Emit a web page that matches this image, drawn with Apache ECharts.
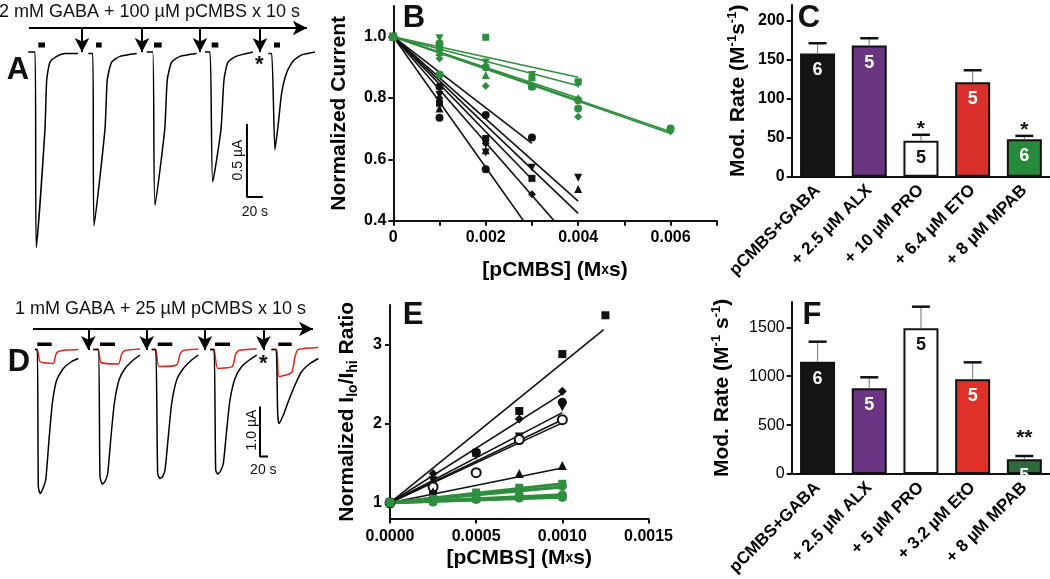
<!DOCTYPE html>
<html>
<head>
<meta charset="utf-8">
<title>pCMBS modification rates</title>
<script src="https://cdn.jsdelivr.net/npm/echarts@6.0.0/dist/echarts.min.js"></script>
<style>
  html, body { margin: 0; padding: 0; background: #fff; }
  #chart { width: 1050px; height: 579px; }
</style>
</head>
<body>
<div id="chart"></div>
<script>
// A: 2 mM GABA + 100 uM pCMBS, currents (time s, current uA)
var aTraceTime = [
    [-6.3, 2.1, 3.8, 14.6, 16.8, 20.9, 29.3, 39.8, 55.9],
    [68.8, 74.3, 75.9, 89.6, 92.5, 98, 108.4, 129.3],
    [141.8, 149.3, 152.1, 164.3, 167.5, 173, 183.4, 204.3],
    [214.6, 220.9, 224.3, 234.6, 238.4, 243.4, 253.4, 274.6],
    [293.8, 298, 302.1, 306.3, 310.5, 316.8, 325, 335.5, 352.1]
];
var aTraceCurrent = [
    [0, 0, -1.34, -0.53, -0.19, -0.07, -0.03, -0.01, -0.01],
    [-0.01, -0.01, -1.19, -0.53, -0.19, -0.07, -0.03, -0.01],
    [0, 0, -1.05, -0.53, -0.19, -0.07, -0.03, -0.01],
    [0, 0, -0.89, -0.53, -0.19, -0.07, -0.03, 0],
    [-0.01, -0.01, -0.67, -0.49, -0.28, -0.14, -0.06, -0.02, 0]
];
var aArrowTime = [60.9, 135.9, 208.4, 283.4];
var aGabaBars = [[6.3, 14.6], [78.4, 85.5], [150.9, 160.5], [223, 231.3], [300.9, 308.4]];

// D: 1 mM GABA + 25 uM pCMBS, black = high GABA, red = low GABA
var dTraceTime = [
    [0, 5.8, 8.3, 12.5, 18.3, 26.7, 35, 43.3, 54.2, 70.8, 91.7, 108.3],
    [145.8, 158.3, 162.5, 168.3, 175, 181.7, 190, 198.3, 210, 225, 245.8, 262.5],
    [291.7, 301.7, 306.7, 312.5, 319.2, 325, 333.3, 341.7, 354.2, 370.8, 391.7, 408.3],
    [437.5, 447.5, 451.7, 456.7, 463.3, 470.8, 479.2, 487.5, 500, 516.7, 537.5, 554.2],
    [591.7, 602.5, 606.7, 610, 620.8, 633.3, 650, 666.7, 687.5, 708.3]
];
var dTraceCurrent = [
    [-0.01, -0.01, -2.75, -2.89, -2.82, -2.62, -1.82, -1.09, -0.62, -0.39, -0.25, -0.19],
    [-0.01, -0.01, -2.55, -2.70, -2.65, -2.49, -1.75, -1.09, -0.62, -0.39, -0.22, -0.12],
    [-0.01, -0.01, -2.49, -2.59, -2.55, -2.42, -1.75, -1.09, -0.62, -0.39, -0.22, -0.12],
    [-0.01, -0.01, -2.42, -2.50, -2.45, -2.29, -1.62, -1.02, -0.59, -0.35, -0.21, -0.12],
    [-0.01, -0.01, -1.29, -1.49, -1.32, -1.05, -0.72, -0.45, -0.29, -0.19]
];
var dLowTime = [
    [0, 5.8, 12.5, 45.8, 51.7, 58.3, 79.2, 108.3],
    [145.8, 158.3, 165, 208.3, 216.7, 225, 262.5],
    [291.7, 301.7, 310, 354.2, 362.5, 370.8, 408.3],
    [437.5, 447.5, 456.7, 493.3, 501.7, 510, 554.2],
    [590, 604.2, 610, 641.7, 650, 658.3, 708.3]
];
var dLowCurrent = [
    [-0.01, -0.01, -0.25, -0.29, -0.12, -0.05, -0.02, -0.01],
    [-0.01, -0.01, -0.27, -0.30, -0.10, -0.03, 0],
    [-0.01, -0.01, -0.35, -0.32, -0.10, -0.03, 0],
    [-0.01, -0.01, -0.39, -0.35, -0.10, -0.03, 0],
    [-0.01, -0.01, -0.55, -0.47, -0.15, -0.01, 0.03]
];
var dArrowTime = [133.3, 279.2, 425, 570.8];
var dGabaBars = [[5.8, 41.7], [162.5, 200], [306.7, 343.3], [450, 487.5], [608.3, 641.7]];

// B: normalized current vs [pCMBS] (M x s)
var bBlackX = [
    [0, 0.001, 0.002, 0.003],
    [0, 0.001, 0.002, 0.003, 0.004],
    [0, 0.001, 0.002, 0.004],
    [0, 0.001, 0.002, 0.003],
    [0, 0.001, 0.002, 0.003],
    [0, 0.001, 0.002]
];
var bBlackY = [
    [1, 0.837, 0.745, 0.671],
    [1, 0.81, 0.622, 0.573, 0.54],
    [1, 0.766, 0.63, 0.503],
    [1, 0.80, 0.652, 0.486],
    [1, 0.783, 0.668, 0.538],
    [1, 0.736, 0.568]
];
var bBlackSymbol = ['circle', 'triangleDown', 'triangle', 'diamond', 'rect', 'circle'];
var bBlackFitEnd = [[0.003, 0.652], [0.004, 0.464], [0.004, 0.424], [0.004, 0.31], [0.003, 0.535], [0.004, 0.148]];
var bGreenX = [
    [0, 0.001, 0.002, 0.003, 0.004],
    [0, 0.001, 0.002, 0.003, 0.004],
    [0, 0.001, 0.002, 0.003, 0.004],
    [0, 0.001, 0.002, 0.003, 0.004],
    [0, 0.001, 0.004, 0.006],
    [0, 0.001, 0.002, 0.004, 0.006]
];
var bGreenY = [
    [1, 0.962, 0.998, 0.866, 0.853],
    [1, 0.995, 0.916, 0.875, 0.845],
    [1, 0.95, 0.875, 0.84, 0.80],
    [1, 0.978, 0.90, 0.837, 0.793],
    [1, 0.877, 0.766, 0.701],
    [1, 0.929, 0.839, 0.739, 0.692]
];
var bGreenSymbol = ['rect', 'triangleDown', 'triangle', 'circle', 'circle', 'diamond'];
var bGreenFitEnd = [[0.004, 0.868], [0.004, 0.84], [0.004, 0.80], [0.004, 0.79], [0.006, 0.69], [0.006, 0.684]];
var bXLabels = [0, 0.002, 0.004, 0.006];
var bYLabels = [0.4, 0.6, 0.8, 1.0];

// E: normalized Ilo/Ihi ratio vs [pCMBS] (M x s)
var eBlackX = [
    [0, 0.00025, 0.0005, 0.00075, 0.001, 0.00125],
    [0, 0.00025, 0.0005, 0.00075, 0.001],
    [0, 0.00025, 0.0005, 0.00075, 0.001],
    [0, 0.00025, 0.0005, 0.00075, 0.001],
    [0, 0.00025, 0.0005, 0.00075, 0.001],
    [0, 0.00025, 0.00075, 0.001]
];
var eBlackY = [
    [1, 1.16, 1.63, 2.16, 2.88, 3.37],
    [1, 1.37, 1.62, 2.06, 2.41],
    [1, 1.28, 1.60, 1.83, 2.21],
    [1, 1.22, 1.64, 1.79, 2.27],
    [1, 1.20, 1.38, 1.80, 2.05],
    [1, 1.14, 1.37, 1.47]
];
var eBlackSymbol = ['rect', 'diamond', 'triangleDown', 'circle', 'emptyCircle', 'triangle'];
var eBlackFitEnd = [[0.00124, 3.19], [0.001, 2.38], [0.001, 2.14], [0.001, 2.05], [0.001, 2.01], [0.001, 1.44]];
var eGreenX = [
    [0, 0.00025, 0.0005, 0.00075, 0.001],
    [0, 0.00025, 0.0005, 0.00075, 0.001],
    [0, 0.00025, 0.0005, 0.00075, 0.001],
    [0, 0.00025, 0.0005, 0.00075, 0.001],
    [0, 0.00025, 0.0005, 0.00075, 0.001]
];
var eGreenY = [
    [1, 1.05, 1.13, 1.19, 1.24],
    [1, 1.04, 1.10, 1.16, 1.21],
    [1, 1.03, 1.06, 1.09, 1.10],
    [1, 1.02, 1.05, 1.07, 1.08],
    [1, 1.01, 1.04, 1.06, 1.07]
];
var eGreenSymbol = ['rect', 'circle', 'circle', 'rect', 'circle'];
var eGreenFitEnd = [[0.001, 1.24], [0.001, 1.20], [0.001, 1.10], [0.001, 1.08], [0.001, 1.07]];
var eXLabels = [0, 0.0005, 0.001, 0.0015];
var eYLabels = [1, 2, 3];

// C / F: modification rates (M-1 s-1), mean + SEM, n
var cCategories = ['pCMBS+GABA', '+ 2.5 \u00b5M ALX', '+ 10 \u00b5M PRO', '+ 6.4 \u00b5M ETO', '+ 8 \u00b5M MPAB'];
var cRate = [158, 168, 46, 121, 48];
var cSem = [13, 9.4, 7.7, 15.4, 4.3];
var cN = [6, 5, 5, 5, 6];
var cSig = ['', '', '*', '', '*'];
var cYLabels = [0, 50, 100, 150, 200];

var fCategories = ['pCMBS+GABA', '+ 2.5 \u00b5M ALX', '+ 5 \u00b5M PRO', '+ 3.2 \u00b5M EtO', '+ 8 \u00b5M MPAB'];
var fRate = [1148, 876, 1490, 968, 150];
var fSem = [205, 113, 221, 174, 34];
var fN = [6, 5, 5, 5, 5];
var fSig = ['', '', '', '', '**'];
var fYLabels = [0, 500, 1000, 1500];

var FONT = 'Liberation Sans, Arial, sans-serif';
var GREEN = '#2f8e3e';

const figure = {
    init: function () {
        this.chart = echarts.init(document.getElementById('chart'));
        this.render();
    },
    traceSeries: function (times, currents, color, axis) {
        return times.map(function (t, i) {
            return {
                type: 'line', xAxisIndex: axis, yAxisIndex: axis,
                symbol: 'none', smooth: 0.2, silent: true,
                lineStyle: { color: color, width: 1.5 },
                data: t.map(function (v, j) { return [v, currents[i][j]]; })
            };
        });
    },
    // arrows, application bars, asterisk and scale bar of a trace panel
    traceMarks: function (m, axis) {
        var arrows = [[{ coord: [m.lineFrom, m.lineY] }, { coord: [m.lineTo, m.lineY] }]];
        m.arrowTime.forEach(function (t) {
            arrows.push([{ coord: [t, m.lineY] }, { coord: [t, m.tipY] }]);
        });
        var out = [{
            type: 'line', xAxisIndex: axis, yAxisIndex: axis, symbol: 'none', silent: true,
            lineStyle: { color: '#000', width: 2 },
            data: [[m.scaleT, m.scaleTop], [m.scaleT, m.scaleBottom], [m.scaleT + 20, m.scaleBottom]],
            markLine: {
                silent: true, symbol: ['none', 'arrow'], symbolSize: [11, 14],
                label: { show: false },
                lineStyle: { color: '#000', width: 2, type: 'solid' },
                data: arrows
            }
        }];
        m.bars.forEach(function (b) {
            out.push({
                type: 'line', xAxisIndex: axis, yAxisIndex: axis, symbol: 'none', silent: true,
                lineStyle: { color: '#000', width: m.barWidth, cap: 'butt' },
                data: [[b[0], m.barY], [b[1], m.barY]]
            });
        });
        // texts of the panel: asterisk and scale bar units
        var texts = [
            [m.star[0], m.star[1], '*', 'bold 22px ', 0],
            [m.ampText[0], m.ampText[1], m.ampLabel, '14px ', Math.PI / 2],
            [m.timeText[0], m.timeText[1], '20 s', '14px ', 0]
        ];
        out.push({
            type: 'custom', xAxisIndex: axis, yAxisIndex: axis, silent: true,
            data: texts.map(function (t) { return [t[0], t[1]]; }),
            renderItem: function (params, api) {
                var p = api.coord([api.value(0), api.value(1)]);
                var t = texts[params.dataIndex];
                return {
                    type: 'text', x: p[0], y: p[1], rotation: t[4],
                    style: { text: t[2], font: t[3] + FONT, fill: '#111', align: 'center', verticalAlign: 'middle' }
                };
            }
        });
        return out;
    },
    scatterSeries: function (xs, ys, symbols, fits, color, axis, size, fitWidth) {
        var out = [];
        xs.forEach(function (x, i) {
            var sym = symbols[i];
            var hollow = sym === 'emptyCircle';
            out.push({
                type: 'line', xAxisIndex: axis, yAxisIndex: axis, symbol: 'none', silent: true,
                lineStyle: { color: color, width: fitWidth },
                data: [[0, 1], fits[i]]
            });
            out.push({
                type: 'scatter', xAxisIndex: axis, yAxisIndex: axis, silent: true,
                symbol: sym === 'triangleDown' ? 'triangle' : (hollow ? 'circle' : sym),
                symbolRotate: sym === 'triangleDown' ? 180 : 0,
                symbolSize: sym === 'rect' ? size - 1 : size,
                itemStyle: {
                    opacity: 1,
                    color: hollow ? '#fff' : color,
                    borderColor: color, borderWidth: hollow ? 2 : 0
                },
                data: x.map(function (v, j) { return [v, ys[i][j]]; }),
                z: 3
            });
        });
        return out;
    },
    barSeries: function (rate, sem, n, sig, colors, labelColors, axis, sigGap) {
        return [{
            type: 'bar', xAxisIndex: axis, yAxisIndex: axis, barWidth: 35, silent: true,
            data: rate.map(function (v, i) {
                return {
                    value: v,
                    itemStyle: { color: colors[i], borderColor: '#111', borderWidth: 2 },
                    label: { color: labelColors[i] }
                };
            }),
            label: {
                show: true, position: 'insideTop', distance: 8,
                fontFamily: FONT, fontSize: 18, fontWeight: 'bold',
                formatter: function (p) { return n[p.dataIndex]; }
            },
            z: 2
        }, {
            type: 'custom', xAxisIndex: axis, yAxisIndex: axis, silent: true,
            data: rate.map(function (v, i) { return [i, v, v + sem[i]]; }),
            encode: { x: 0, y: [1, 2] },
            renderItem: function (params, api) {
                var p0 = api.coord([api.value(0), api.value(1)]);
                var p1 = api.coord([api.value(0), api.value(2)]);
                var children = [
                    { type: 'line', shape: { x1: p0[0], y1: p0[1], x2: p1[0], y2: p1[1] }, style: { stroke: '#8a8a8a', lineWidth: 1.2 } },
                    { type: 'line', shape: { x1: p1[0] - 9, y1: p1[1], x2: p1[0] + 9, y2: p1[1] }, style: { stroke: '#111', lineWidth: 2.5 } }
                ];
                var s = sig[params.dataIndex];
                if (s) {
                    children.push({
                        type: 'text', x: p1[0], y: p1[1] - sigGap,
                        style: { text: s, font: 'bold 21px ' + FONT, fill: '#111', align: 'center', verticalAlign: 'middle' }
                    });
                }
                return { type: 'group', children: children };
            },
            z: 3
        }];
    },
    valueAxisStyle: function (extra) {
        var base = {
            type: 'value',
            splitLine: { show: false },
            axisLine: { show: true, onZero: false, lineStyle: { color: '#111', width: 2 } },
            axisTick: { show: true, length: 5, lineStyle: { color: '#111', width: 2 } },
            axisLabel: { color: '#000', fontFamily: FONT, fontSize: 16, fontWeight: 'bold' },
            nameLocation: 'middle',
            nameTextStyle: { color: '#000', fontFamily: FONT, fontSize: 21, fontWeight: 'bold' }
        };
        return echarts.util.merge(base, extra, true);
    },
    render: function () {
        var _this = this;
        var hidden = { type: 'value', show: false, splitLine: { show: false } };
        var rateName = {
            t: { fontFamily: FONT, fontSize: 21, fontWeight: 'bold', color: '#000', lineHeight: 26 },
            s: { fontFamily: FONT, fontSize: 13, fontWeight: 'bold', color: '#000', lineHeight: 26, verticalAlign: 'top' }
        };
        var doseName = {
            n: { fontFamily: FONT, fontSize: 21, fontWeight: 'bold', color: '#000' },
            x: { fontFamily: FONT, fontSize: 14, fontWeight: 'bold', color: '#000' }
        };
        var catAxis = function (axis, data) {
            return {
                type: 'category', gridIndex: axis, data: data,
                axisLine: { lineStyle: { color: '#111', width: 2 } },
                axisTick: { alignWithLabel: true, length: 5, lineStyle: { color: '#111', width: 2 } },
                axisLabel: { interval: 0, rotate: 45, margin: 11, color: '#000', fontFamily: FONT, fontSize: 17, fontWeight: 'bold' }
            };
        };

        var grids = [
            { left: 0, top: 0, width: 320, height: 260 },
            { left: 393.3, top: 6, width: 323.5, height: 214.7 },
            { left: 791.7, top: 5, width: 258.5, height: 171.7 },
            { left: 0, top: 290, width: 320, height: 230 },
            { left: 390, top: 305, width: 258.5, height: 213.6 },
            { left: 791.7, top: 301.9, width: 258.5, height: 172.1 }
        ].map(function (g) { g.containLabel = false; g.outerBoundsMode = 'none'; return g; });

        var xAxis = [
            echarts.util.extend({ gridIndex: 0, min: -41.6, max: 358.4 }, hidden),
            _this.valueAxisStyle({
                gridIndex: 1, min: 0, max: 0.007, interval: 0.001,
                axisLabel: {
                    margin: 9, customValues: bXLabels,
                    formatter: function (v) { return v === 0 ? '0' : v.toFixed(3); }
                },
                name: '{n|[pCMBS] (M}{x|x}{n|s)}', nameGap: 39,
                nameTextStyle: { rich: doseName }
            }),
            catAxis(2, cCategories),
            echarts.util.extend({ gridIndex: 3, min: -87.5, max: 712.5 }, hidden),
            _this.valueAxisStyle({
                gridIndex: 4, min: 0, max: 0.0015, interval: 0.0005,
                axisLabel: {
                    margin: 10, customValues: eXLabels,
                    formatter: function (v) { return v.toFixed(4); }
                },
                name: '{n|[pCMBS] (M}{x|x}{n|s)}', nameGap: 29,
                nameTextStyle: { rich: doseName }
            }),
            catAxis(5, fCategories)
        ];

        var yAxis = [
            echarts.util.extend({ gridIndex: 0, min: -1.425, max: 0.356 }, hidden),
            _this.valueAxisStyle({
                gridIndex: 1, min: 0.4, max: 1.1,
                axisTick: { customValues: bYLabels },
                axisLabel: { margin: 7, customValues: bYLabels, formatter: function (v) { return v.toFixed(1); } },
                name: 'Normalized Current', nameGap: 44
            }),
            _this.valueAxisStyle({
                gridIndex: 2, min: 0, max: 220,
                axisTick: { customValues: cYLabels },
                axisLabel: { margin: 7, customValues: cYLabels, formatter: function (v) { return String(v); } },
                name: '{t|Mod. Rate (M}{s|-1}{t|s}{s|-1}{t|)}', nameGap: 40,
                nameTextStyle: { rich: rateName }
            }),
            echarts.util.extend({ gridIndex: 3, min: -3.42, max: 1.18 }, hidden),
            _this.valueAxisStyle({
                gridIndex: 4, min: 0.8, max: 3.5,
                axisTick: { customValues: eYLabels },
                axisLabel: { margin: 8, customValues: eYLabels, formatter: function (v) { return String(v); } },
                name: '{t|Normalized I}{b|lo}{t|/I}{b|hi}{t| Ratio}', nameGap: 30,
                nameTextStyle: {
                    rich: {
                        t: { fontFamily: FONT, fontSize: 21, fontWeight: 'bold', color: '#000', lineHeight: 26 },
                        b: { fontFamily: FONT, fontSize: 14, fontWeight: 'bold', color: '#000', lineHeight: 26, verticalAlign: 'bottom' }
                    }
                }
            }),
            _this.valueAxisStyle({
                gridIndex: 5, min: 0, max: 1760,
                axisTick: { customValues: fYLabels },
                axisLabel: { margin: 7, customValues: fYLabels, fontWeight: 'normal', formatter: function (v) { return String(v); } },
                name: '{t|Mod. Rate (M}{s|-1}{t| s}{s|-1}{t|)}', nameGap: 56,
                nameTextStyle: { rich: rateName }
            })
        ];

        var series = [].concat(
            _this.traceSeries(aTraceTime, aTraceCurrent, '#000', 0),
            _this.traceMarks({
                lineFrom: -5.4, lineTo: 342, lineY: 0.164, tipY: 0, arrowTime: aArrowTime,
                bars: aGabaBars, barY: 0.048, barWidth: 5,
                star: [282.5, -0.09], ampText: [255.6, -0.74], ampLabel: '0.5 \u00b5A', timeText: [277, -1.1],
                scaleT: 267.1, scaleTop: -0.493, scaleBottom: -0.993
            }, 0),
            _this.traceSeries(dLowTime, dLowCurrent, '#e3241f', 3),
            _this.traceSeries(dTraceTime, dTraceCurrent, '#000', 3),
            _this.traceMarks({
                lineFrom: -5, lineTo: 695, lineY: 0.4, tipY: -0.02, arrowTime: dArrowTime,
                bars: dGabaBars, barY: 0.094, barWidth: 3.5,
                star: [570.8, -0.29], ampText: [541.7, -1.62], ampLabel: '1.0 \u00b5A', timeText: [570.8, -2.42],
                scaleT: 562.5, scaleTop: -1.15, scaleBottom: -2.15
            }, 3),
            _this.scatterSeries(bBlackX, bBlackY, bBlackSymbol, bBlackFitEnd, '#111', 1, 8, 1.6),
            _this.scatterSeries(bGreenX, bGreenY, bGreenSymbol, bGreenFitEnd, GREEN, 1, 8, 1.6),
            _this.scatterSeries(eBlackX, eBlackY, eBlackSymbol, eBlackFitEnd, '#111', 4, 9, 1.6),
            _this.scatterSeries(eGreenX, eGreenY, eGreenSymbol, eGreenFitEnd, GREEN, 4, 9, 3),
            _this.barSeries(cRate, cSem, cN, cSig,
                ['#141414', '#6a3481', '#ffffff', '#d9302c', '#268a3b'],
                ['#fff', '#fff', '#111', '#fff', '#fff'], 2, 6),
            _this.barSeries(fRate, fSem, fN, fSig,
                ['#141414', '#6b3583', '#ffffff', '#e0302a', '#2e6a3a'],
                ['#fff', '#fff', '#111', '#fff', '#fff'], 5, 18)
        );

        var letter = function (t, x, y) {
            return { type: 'text', x: x, y: y, style: { text: t, font: 'bold 31px ' + FONT, fill: '#111', align: 'center', verticalAlign: 'middle' } };
        };
        var title = function (t, x, y) {
            return { type: 'text', x: x, y: y, style: { text: t, font: '18px ' + FONT, fill: '#111', align: 'left', verticalAlign: 'middle' } };
        };

        var option = {
            animation: false,
            backgroundColor: '#fff',
            textStyle: { fontFamily: FONT },
            grid: grids,
            xAxis: xAxis,
            yAxis: yAxis,
            series: series,
            graphic: [
                title('2 mM GABA + 100 \u00b5M pCMBS x 10 s', -1, 12),
                title('1 mM GABA + 25 \u00b5M pCMBS x 10 s', 15, 309),
                letter('A', 18, 70),
                letter('B', 414, 18),
                letter('C', 809, 18),
                letter('D', 19, 362),
                letter('E', 413, 315),
                letter('F', 812, 315)
            ]
        };
        _this.chart.clear();
        _this.chart.setOption(option);
    }
};

figure.init();
</script>
</body>
</html>
